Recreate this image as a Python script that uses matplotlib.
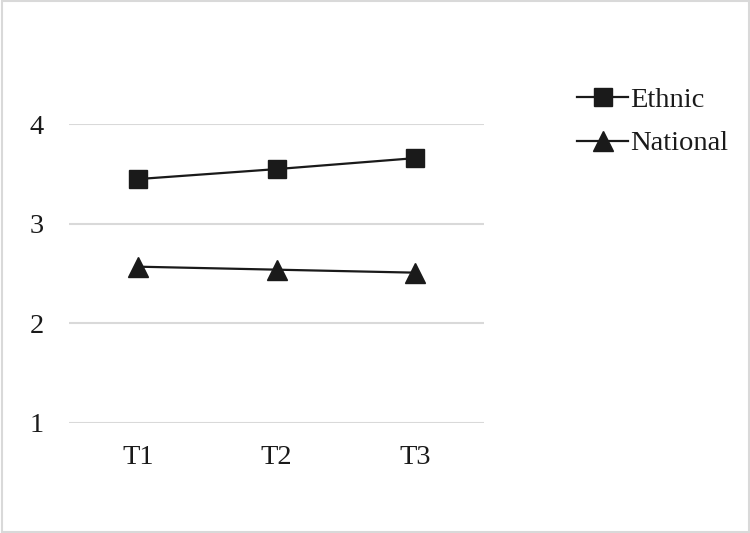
import matplotlib
matplotlib.use("Agg")
import matplotlib.pyplot as plt
from matplotlib.patches import Rectangle

times = ["T1", "T2", "T3"]
ethnic = [3.45, 3.55, 3.66]
national = [2.57, 2.54, 2.51]
yticks = [1, 2, 3, 4]

plt.rcParams['font.family'] = ['Liberation Serif', 'DejaVu Serif']

fig = plt.figure(figsize=(7.5, 5.33), dpi=100)
ax = fig.add_axes([69 / 750, 1 - 423 / 533, 415 / 750, 298.7 / 533])

x = list(range(len(times)))
ax.plot(x, ethnic, color="#1a1a1a", linewidth=1.6, marker="s", markersize=13,
        label="Ethnic", clip_on=False)
ax.plot(x, national, color="#1a1a1a", linewidth=1.6, marker="^", markersize=14,
        label="National", clip_on=False)

ax.set_xlim(-0.5, 2.5)
ax.set_ylim(1, 4)
ax.set_xticks(x)
ax.set_xticklabels(times)
ax.set_yticks(yticks)
ax.yaxis.grid(True, color="#d9d9d9", linewidth=1.5)
ax.set_axisbelow(True)
for s in ax.spines.values():
    s.set_visible(False)
ax.tick_params(axis="both", length=0, labelsize=20.5, colors="#1a1a1a")
ax.tick_params(axis="y", pad=18)
ax.tick_params(axis="x", pad=16)

ax.legend(loc="center left", bbox_to_anchor=(577 / 750, 1 - 122 / 533),
          bbox_transform=fig.transFigure, frameon=False, fontsize=20.5,
          handlelength=1.8, handletextpad=0.05, labelspacing=0.6, borderpad=0,
          borderaxespad=0, labelcolor="#1a1a1a")

fig.patches.append(Rectangle((0.002, 0.002), 0.996, 0.996, transform=fig.transFigure,
                             fill=False, edgecolor="#d9d9d9", linewidth=1.5))

fig.savefig("out.png", dpi=100)
